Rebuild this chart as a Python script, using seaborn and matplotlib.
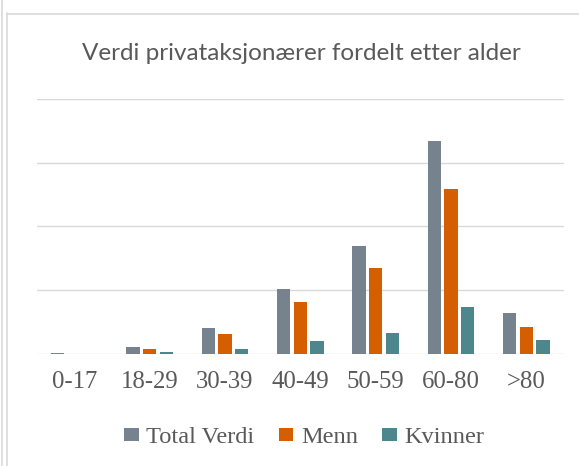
import numpy as np
import pandas as pd
import matplotlib
matplotlib.use("Agg")
import matplotlib.pyplot as plt
from matplotlib.lines import Line2D
import seaborn as sns

categories = ["0-17", "18-29", "30-39", "40-49", "50-59", "60-80", ">80"]
series_names = ["Total Verdi", "Menn", "Kvinner"]
total_verdi = [0.02, 0.12, 0.41, 1.03, 1.69, 3.34, 0.65]
menn = [0.0, 0.08, 0.32, 0.82, 1.35, 2.59, 0.425]
kvinner = [0.0, 0.04, 0.086, 0.21, 0.34, 0.74, 0.22]
colors = ["#76838f", "#d55e00", "#4e868e"]

df = pd.DataFrame({
    "Alder": categories * 3,
    "Serie": [series_names[0]] * 7 + [series_names[1]] * 7 + [series_names[2]] * 7,
    "Verdi": total_verdi + menn + kvinner,
})

sns.set_theme(style="white")
plt.rcParams["font.family"] = ["DejaVu Sans"]

fig = plt.figure(figsize=(5.79, 4.66), dpi=100)
ax = fig.add_axes([0.0634, 0.2393, 0.9106, 0.5493])

sns.barplot(data=df, x="Alder", y="Verdi", hue="Serie", hue_order=series_names,
            palette=colors, saturation=1, width=0.665, gap=0.2, linewidth=0,
            ax=ax, legend=True)

ax.set_ylim(0, 4)
ax.set_yticks([0, 1, 2, 3, 4])
ax.set_yticklabels([])
ax.yaxis.grid(True, color="#d9d9d9", linewidth=1.0)
ax.set_axisbelow(True)
for s in ax.spines.values():
    s.set_visible(False)
ax.set_xlim(-0.5, 6.5)
ax.set_xlabel("")
ax.set_ylabel("")
ax.tick_params(axis="y", length=0)

ax.set_xticks(np.arange(len(categories)))
ax.set_xticklabels(categories, fontfamily="Liberation Serif", fontsize=17.8, color="#595959")
ax.tick_params(axis="x", length=0, pad=12)

handles, labels = ax.get_legend_handles_labels()
ax.get_legend().remove()
fig.legend(handles, labels, loc="center", bbox_to_anchor=(304.2 / 579, 1 - 437.5 / 466),
           ncol=3, frameon=False, handlelength=0.6, handleheight=0.45,
           handletextpad=0.3, columnspacing=1.0, borderpad=0, borderaxespad=0,
           prop={"family": "Liberation Serif", "size": 17.6}, labelcolor="#595959")

fig.text(301 / 579, 1 - 60 / 466, "Verdi privataksjonærer fordelt etter alder",
         ha="center", va="baseline", fontsize=17.5, color="#595959", family="Lato")

# frame lines of the chart area
fig.add_artist(Line2D([1.5 / 579, 1.5 / 579], [0, 1], color="#d9d9d9", linewidth=1.2, transform=fig.transFigure))
fig.add_artist(Line2D([6.5 / 579, 6.5 / 579], [0, 1 - 13 / 466], color="#d9d9d9", linewidth=1.2, transform=fig.transFigure))
fig.add_artist(Line2D([6.5 / 579, 1], [1 - 13.5 / 466, 1 - 13.5 / 466], color="#d9d9d9", linewidth=1.2, transform=fig.transFigure))

fig.savefig("out.png", dpi=100)
